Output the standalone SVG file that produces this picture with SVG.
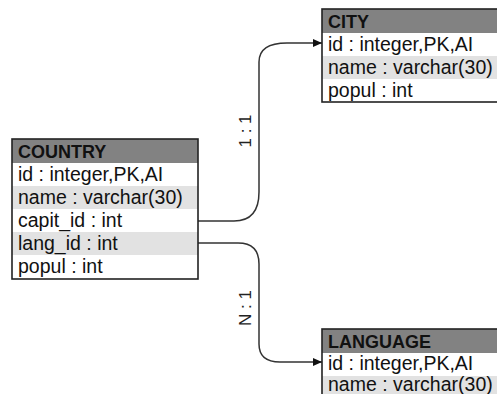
<svg xmlns="http://www.w3.org/2000/svg" width="497" height="394" viewBox="0 0 497 394">
<defs>
<style>
.hdr{fill:#828282}
.alt{fill:#e2e2e2}
.row{fill:#ffffff}
.box{fill:none;stroke:#222;stroke-width:1.6}
.t{font-family:"Liberation Sans",Arial,sans-serif;font-size:19.5px;fill:#111}
.h{font-family:"Liberation Sans",Arial,sans-serif;font-size:18px;font-weight:bold;fill:#111}
.c{fill:none;stroke:#333;stroke-width:1.5}
.lbl{font-family:"Liberation Sans",Arial,sans-serif;font-size:17px;fill:#222}
</style>
<marker id="arr" markerWidth="9" markerHeight="8" refX="9" refY="4" orient="auto" markerUnits="userSpaceOnUse">
<path d="M0,0 L9,4 L0,8 z" fill="#111"/>
</marker>
</defs>
<rect width="497" height="394" fill="#ffffff"/>
<g id="connectors">
<path class="c" d="M198,221 L234,221 C250,221 259,212 259,192 L259,62 C259,50 268,43 287,43 L322,43" marker-end="url(#arr)"/>
<path class="c" d="M198,243 L238,243 C252,243 259,250 259,264 L259,344 C259,356 266,362 280,362 L322,362" marker-end="url(#arr)"/>
<text class="lbl" transform="translate(251,131) rotate(-90)" text-anchor="middle">1 : 1</text>
<text class="lbl" transform="translate(251,308) rotate(-90)" text-anchor="middle">N : 1</text>
</g>
<g id="country">
<rect class="hdr" x="12" y="139" width="186" height="24"/>
<rect class="row" x="12" y="163" width="186" height="23"/>
<rect class="alt" x="12" y="186" width="186" height="23"/>
<rect class="row" x="12" y="209" width="186" height="23"/>
<rect class="alt" x="12" y="232" width="186" height="23"/>
<rect class="row" x="12" y="255" width="186" height="24"/>
<rect class="box" x="12" y="139" width="186" height="140"/>
<text class="h" x="18" y="158">COUNTRY</text>
<text class="t" x="18" y="181">id : integer,PK,AI</text>
<text class="t" x="18" y="204">name : varchar(30)</text>
<text class="t" x="18" y="227">capit_id : int</text>
<text class="t" x="18" y="250">lang_id : int</text>
<text class="t" x="18" y="273">popul : int</text>
</g>
<g id="city">
<rect class="hdr" x="322" y="9" width="190" height="24"/>
<rect class="row" x="322" y="33" width="190" height="23"/>
<rect class="alt" x="322" y="56" width="190" height="23"/>
<rect class="row" x="322" y="79" width="190" height="23"/>
<rect class="box" x="322" y="9" width="190" height="93"/>
<text class="h" x="328" y="28">CITY</text>
<text class="t" x="328" y="51">id : integer,PK,AI</text>
<text class="t" x="328" y="74">name : varchar(30)</text>
<text class="t" x="328" y="97">popul : int</text>
</g>
<g id="language">
<rect class="hdr" x="322" y="329" width="190" height="24"/>
<rect class="row" x="322" y="353" width="190" height="23"/>
<rect class="alt" x="322" y="376" width="190" height="23"/>
<rect class="box" x="322" y="329" width="190" height="80"/>
<text class="h" x="328" y="348">LANGUAGE</text>
<text class="t" x="328" y="370">id : integer,PK,AI</text>
<text class="t" x="328" y="391">name : varchar(30)</text>
</g>
</svg>
